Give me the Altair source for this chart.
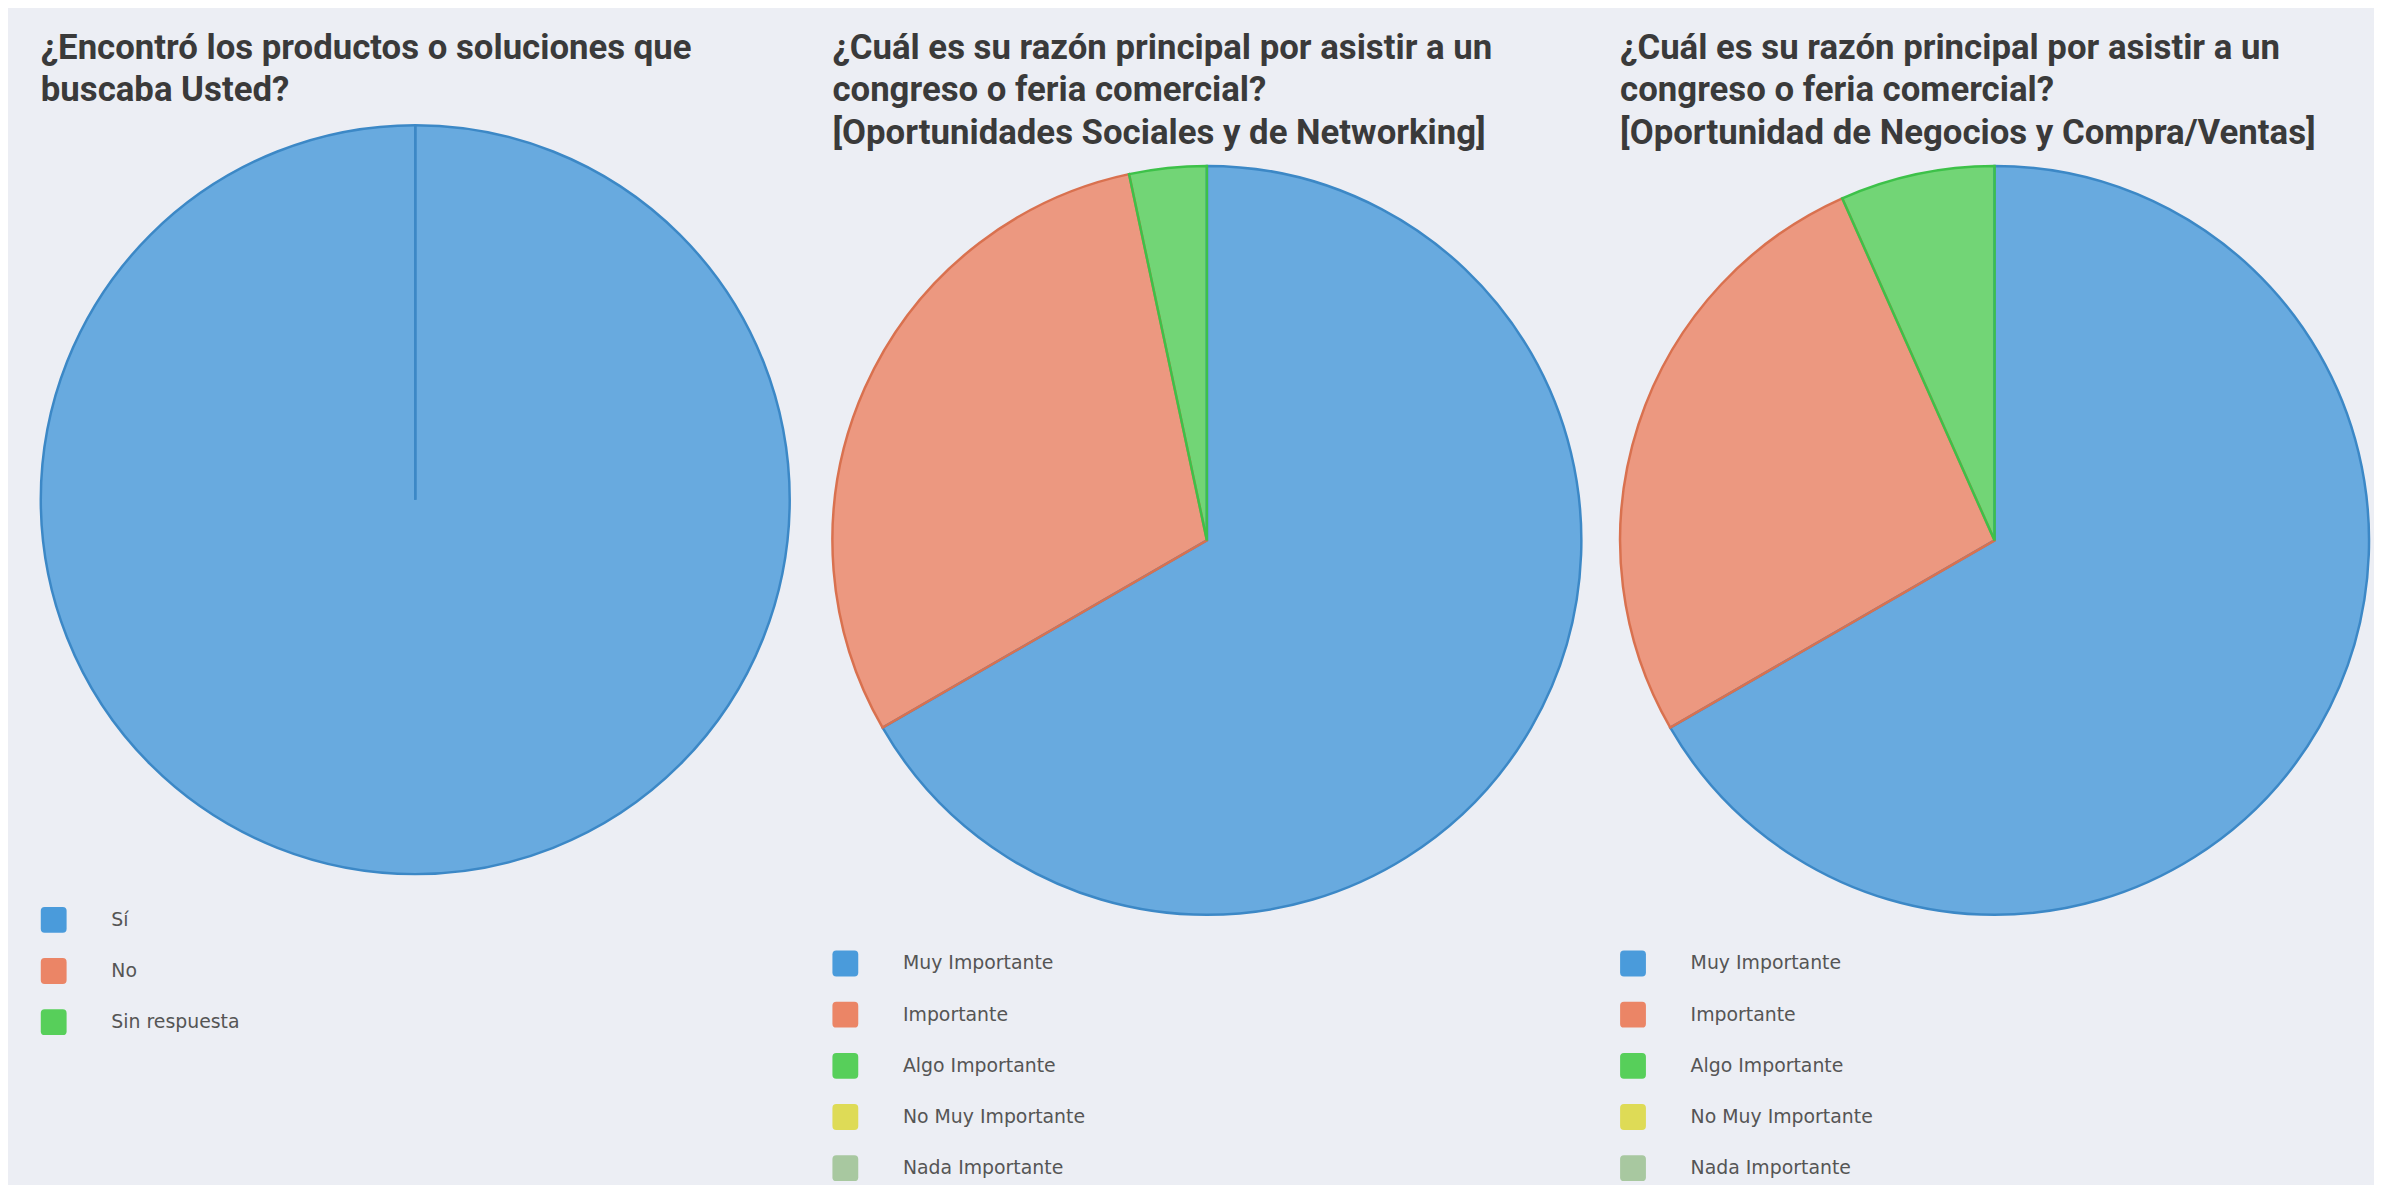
import altair as alt
import pandas as pd

# ---------------- data ----------------
title_1 = ["¿Encontró los productos o soluciones que", "buscaba Usted?"]
title_2 = ["¿Cuál es su razón principal por asistir a un",
           "congreso o feria comercial?",
           "[Oportunidades Sociales y de Networking]"]
title_3 = ["¿Cuál es su razón principal por asistir a un",
           "congreso o feria comercial?",
           "[Oportunidad de Negocios y Compra/Ventas]"]

cats_1 = ["Sí", "No", "Sin respuesta"]
vals_1 = [30, 0, 0]

cats_imp = ["Muy Importante", "Importante", "Algo Importante",
            "No Muy Importante", "Nada Importante"]
vals_2 = [20, 9, 1, 0, 0]
vals_3 = [20, 8, 2, 0, 0]

legend_colors = ["#4A9BDB", "#EB8566", "#57CF5A", "#DEDB56", "#A8C8A0"]
stroke_colors = ["#3C88C6", "#D9714F", "#3DC149", "#C8C43C", "#8FB087"]

# ---------------- style ----------------
BG = "#ECEEF4"
R = 377
H = 1168
ROUNDED = ("M-1,-0.7 Q-1,-1 -0.7,-1 L0.7,-1 Q1,-1 1,-0.7 L1,0.7 "
           "Q1,1 0.7,1 L-0.7,1 Q-1,1 -1,0.7 Z")


def make_panel(title_lines, cats, vals, width, cx, cy, leg_x, leg_y, radial_line):
    df = pd.DataFrame({"cat": cats, "value": vals, "idx": list(range(len(cats)))})
    n = len(cats)
    base = alt.Chart(df).encode(
        theta=alt.Theta("value:Q", stack=True),
        order=alt.Order("idx:Q"),
        x=alt.value(cx),
        y=alt.value(cy),
    )
    fill = base.mark_arc(radius=R, fillOpacity=0.82, strokeWidth=0).encode(
        color=alt.Color(
            "cat:N",
            scale=alt.Scale(domain=cats, range=legend_colors[:n]),
            legend=alt.Legend(
                orient="none",
                legendX=leg_x,
                legendY=leg_y,
                title=None,
                direction="vertical",
                symbolType=ROUNDED,
                symbolSize=676,
                symbolStrokeWidth=0,
                symbolOpacity=1,
                labelFont="DejaVu Sans",
                labelFontSize=19,
                labelColor="#555555",
                labelOffset=45,
                labelLimit=0,
                rowPadding=25.5,
                padding=0,
            ),
        )
    )
    if radial_line:
        edge = base.mark_arc(filled=False, radius=R, strokeWidth=2.5,
                             stroke=stroke_colors[0])
    else:
        edge = base.transform_filter("datum.value > 0").mark_arc(
            filled=False, radius=R, strokeWidth=2.5
        ).encode(
            stroke=alt.Stroke("cat:N",
                              scale=alt.Scale(domain=cats, range=stroke_colors[:n]),
                              legend=None)
        )
    title = alt.Chart(pd.DataFrame({"k": [0]})).mark_text(
        align="left", baseline="alphabetic", font="Roboto", fontSize=35,
        fontWeight="bold", color="#3A3A3A", lineHeight=43,
    ).encode(
        x=alt.value(cx - R),
        y=alt.value(47),
        text=alt.value(title_lines),
    )
    return alt.layer(fill, edge, title).properties(width=width, height=H)


p1 = make_panel(title_1, cats_1, vals_1, 782, 410, 491, 33, 901, True)
p2 = make_panel(title_2, cats_imp, vals_2, 790, 415, 532, 38, 945, False)
p3 = make_panel(title_3, cats_imp, vals_3, 790, 411, 532, 34, 945, False)

chart = alt.hconcat(p1, p2, p3, spacing=0).resolve_scale(
    color="independent", stroke="independent", theta="independent"
).properties(
    background=BG, padding=0
).configure_view(stroke=None)

chart.save("out.html", embed_options={"renderer": "svg", "actions": False})
